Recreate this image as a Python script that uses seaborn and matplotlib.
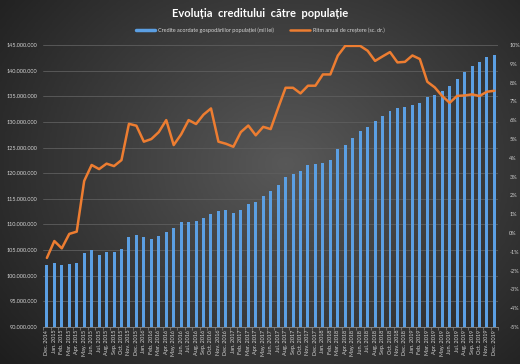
import numpy as np
import pandas as pd
import matplotlib
matplotlib.use("Agg")
import matplotlib.pyplot as plt
from matplotlib.lines import Line2D
from matplotlib.ticker import FuncFormatter, FixedLocator
import seaborn as sns

sns.set_theme(style="dark")
plt.rcParams['font.family'] = ['Lato', 'DejaVu Sans']

# month labels, Dec. 2014 .. Dec. 2019
month_names = ["Jan.", "Feb.", "Mar.", "Apr.", "May.", "Jun.",
               "Jul.", "Aug.", "Sep.", "Oct.", "Nov.", "Dec."]
years = [2015, 2016, 2017, 2018, 2019]
labels = ["Dec. 2014"] + [f"{m} {y}" for y in years for m in month_names]

# credite acordate gospodariilor populatiei (mil lei -> lei)
credit_mil = [
    102.1, 102.5, 102.1, 102.3, 102.5, 104.4, 105.0, 104.1, 104.6, 104.7,
    105.2, 107.5, 107.9, 107.6, 107.1, 107.8, 108.5, 109.3, 110.4, 110.4,
    110.7, 111.2, 112.1, 112.7, 112.9, 112.3, 112.9, 114.0, 114.3, 115.5,
    116.6, 117.7, 119.3, 119.9, 120.5, 121.6, 121.7, 121.9, 122.5, 124.8,
    125.5, 126.9, 128.2, 129.0, 130.2, 131.2, 132.2, 132.7, 132.9, 133.4,
    133.8, 134.8, 135.3, 136.1, 137.0, 138.4, 139.7, 141.0, 141.8, 142.6,
    143.0,
]

# ritm anual de crestere (%)
growth = [
    -1.33, -0.43, -0.82, -0.05, 0.07, 2.77, 3.62, 3.40, 3.69, 3.56,
    3.88, 5.81, 5.71, 4.86, 5.00, 5.37, 6.01, 4.68, 5.25, 6.01,
    5.80, 6.30, 6.63, 4.86, 4.75, 4.59, 5.37, 5.72, 5.20, 5.65,
    5.53, 6.65, 7.73, 7.73, 7.43, 7.84, 7.84, 8.44, 8.44, 9.44,
    9.96, 9.96, 9.96, 9.70, 9.16, 9.40, 9.63, 9.08, 9.11, 9.45,
    9.26, 8.05, 7.75, 7.29, 6.93, 7.30, 7.32, 7.38, 7.29, 7.52,
    7.57,
]

df = pd.DataFrame({"luna": labels,
                   "credit": np.array(credit_mil) * 1e6,
                   "ritm": growth})

bar_color = "#5b9fe3"
line_color = "#ed7d31"
text_color = "#d4d4d4"

fig = plt.figure(figsize=(5.2, 3.64), dpi=100)

# dark gradient background
bg = fig.add_axes([0, 0, 1, 1], zorder=-10)
yy, xx = np.mgrid[0:1:200j, 0:1:300j]
r = np.sqrt(((xx - 0.55) / 0.8) ** 2 + ((yy - 0.45) / 0.95) ** 2)
bg.imshow(np.clip(r, 0, 1), cmap=matplotlib.colors.LinearSegmentedColormap.from_list(
    "bg", ["#585858", "#1e1e1e"]), aspect="auto", extent=[0, 1, 0, 1])
bg.set_axis_off()

ax = fig.add_axes([0.083, 0.102, 0.875, 0.774])
ax.set_facecolor("none")
sns.barplot(data=df, x="luna", y="credit", color=bar_color, width=0.4,
            saturation=1, ax=ax, zorder=2, edgecolor="none", linewidth=0)
ax.set_ylim(90e6, 145e6)
ax.set_yticks(np.arange(90e6, 145e6 + 1, 5e6))
ax.yaxis.set_major_formatter(FuncFormatter(lambda v, p: f"{int(v):,}".replace(",", ".")))
ax.set_xlim(-0.5, len(labels) - 0.5)
ax.set_xlabel("")
ax.set_ylabel("")
ax.grid(axis="y", color="#5e5e5e", lw=0.6, zorder=0)
ax.grid(axis="x", visible=False)
for s in ["top", "right", "left"]:
    ax.spines[s].set_visible(False)
ax.spines["bottom"].set_color("#8a8a8a")
ax.spines["bottom"].set_linewidth(0.6)
ax.tick_params(axis="y", length=0, labelsize=4, labelcolor=text_color, pad=4)
ax.tick_params(axis="x", which="major", length=0, labelsize=4,
               labelcolor=text_color, rotation=90, pad=2)
ax.xaxis.set_minor_locator(FixedLocator(np.arange(-0.5, len(labels), 1)))
ax.tick_params(axis="x", which="minor", length=2.5, color="#8a8a8a", width=0.5,
               bottom=True)

ax2 = ax.twinx()
ax2.set_facecolor("none")
sns.lineplot(x=np.arange(len(labels)), y=df["ritm"], color=line_color,
             lw=1.8, ax=ax2)
ax2.set_ylim(-5, 10)
ax2.set_yticks(np.arange(-5, 11, 1))
ax2.yaxis.set_major_formatter(FuncFormatter(lambda v, p: f"{int(round(v))}%"))
ax2.set_ylabel("")
ax2.grid(False)
for s in ax2.spines.values():
    s.set_visible(False)
ax2.tick_params(axis="y", length=0, labelsize=4, labelcolor=text_color, pad=8)

fig.text(0.5, 0.962, "Evoluția  creditului  către  populație", ha="center",
         va="center", color="white", fontsize=8, fontweight="bold")

handles = [Line2D([0], [0], color=bar_color, lw=2.5),
           Line2D([0], [0], color=line_color, lw=1.8)]
fig.legend(handles, ["Credite acordate gospodăriilor populației (mil lei)",
                     "Ritm anual de creștere (sc. dr.)"],
           loc="center", bbox_to_anchor=(0.5, 0.917), ncol=2, frameon=False,
           fontsize=4, labelcolor=text_color, handlelength=3.5,
           columnspacing=3, handletextpad=0.5)

fig.savefig("out.png", dpi=100)
